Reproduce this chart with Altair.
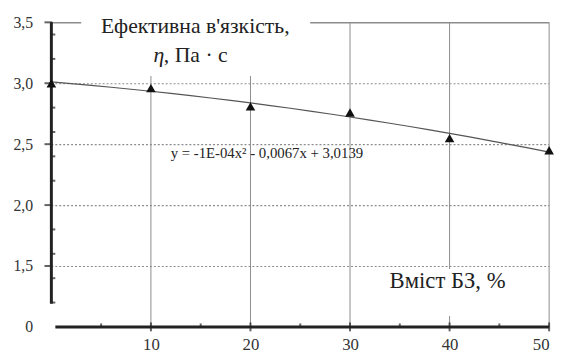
import altair as alt
import pandas as pd

# ---- data ----
content = [0, 10, 20, 30, 40, 50]               # Вміст БЗ, %
viscosity = [3.00, 2.96, 2.81, 2.76, 2.55, 2.45]  # η, Па·с

x_ticks = [0, 10, 20, 30, 40, 50]
x_grid = [10, 20, 30, 40, 50]
x_minor = [5, 15, 25, 35, 45]
y_ticks = [1.0, 1.5, 2.0, 2.5, 3.0, 3.5]          # 1.0 is the broken-axis "0"
y_major = [1.5, 2.0, 2.5, 3.0, 3.5]
y_grid = [1.5, 2.0, 2.5, 3.0]
y_minor = [1.2, 1.4, 1.6, 1.8, 2.2, 2.4, 2.6, 2.8, 3.2, 3.4]

title_line1 = "Ефективна в'язкість,"
title_eta = "η"
title_line2 = ", Па · с"
x_title = "Вміст БЗ, %"
equation = "y = -1E-04x² - 0,0067x + 3,0139"

df = pd.DataFrame({"x": content, "y": viscosity})

XS = alt.Scale(domain=[0, 50], nice=False, zero=False)
YS = alt.Scale(domain=[1.0, 3.5], nice=False, zero=False)
INK = "#222222"
GRID = "#8c8c8c"
SERIF = "Liberation Serif"

AX_X = alt.Axis(
    values=x_ticks,
    labelExpr="datum.value == 0 ? '' : datum.label",
    grid=False, domain=False, ticks=False,
    labelFont=SERIF, labelFontSize=17, labelColor="#333333",
    labelPadding=10,
)
AX_Y = alt.Axis(
    values=y_ticks,
    labelExpr="datum.value == 1 ? '0' : replace(format(datum.value, '.1f'), '.', ',')",
    grid=False, domain=False, ticks=False,
    labelFont=SERIF, labelFontSize=16, labelColor="#333333",
    labelPadding=19,
)


def X(field="x"):
    return alt.X(f"{field}:Q", scale=XS, title=None, axis=AX_X)


def Y(field="y"):
    return alt.Y(f"{field}:Q", scale=YS, title=None, axis=AX_Y)


# grid and frame
h_grid = alt.Chart(pd.DataFrame({"y": y_grid, "x": [0] * 4, "x2": [50] * 4})).mark_rule(
    color=GRID, strokeWidth=1.2, strokeDash=[2, 2], yOffset=0.5).encode(x=X(), x2="x2:Q", y=Y())
v_grid = alt.Chart(pd.DataFrame({"x": x_grid, "y": [1.0] * 5, "y2": [3.5] * 5})).mark_rule(
    color=GRID, strokeWidth=1).encode(x=X(), y=Y(), y2="y2:Q")
frame_top = alt.Chart(pd.DataFrame({"x": [0], "x2": [50], "y": [3.5]})).mark_rule(
    color=GRID, strokeWidth=1.5, yOffset=0.5).encode(x=X(), x2="x2:Q", y=Y())

# white boxes behind the annotation texts (cover grid lines like in the original)
boxes = alt.Chart(pd.DataFrame({
    "x": [3.0, 32.5], "x2": [26.0, 46.8], "y": [3.06, 1.09], "y2": [3.62, 1.475]
})).mark_rect(color="white").encode(x=X(), x2="x2:Q", y=Y(), y2="y2:Q")

trend = alt.Chart(df).transform_regression(
    "x", "y", method="poly", order=2, extent=[0, 50]
).mark_line(color="#555555", strokeWidth=1.2).encode(x=X(), y=Y())

points = alt.Chart(df).mark_point(
    shape="triangle-up", filled=True, color="#111111", size=95, opacity=1
).encode(x=X(), y=Y())

# broken axes lines
y_line = alt.Chart(pd.DataFrame({"x": [0], "y": [1.19], "y2": [3.5]})).mark_rule(
    color=INK, strokeWidth=3).encode(x=X(), y=Y(), y2="y2:Q")
x_line = alt.Chart(pd.DataFrame({"x": [0.4], "x2": [50], "y": [1.0]})).mark_rule(
    color=INK, strokeWidth=3).encode(x=X(), x2="x2:Q", y=Y())

x_major = alt.Chart(pd.DataFrame({"x": x_grid, "y": [1.0] * 5})).mark_tick(
    orient="vertical", size=9, thickness=2, color=INK).encode(x=X(), y=Y())
x_min = alt.Chart(pd.DataFrame({"x": x_minor, "y": [1.0] * 5})).mark_tick(
    orient="vertical", size=3, thickness=2, color=INK, yOffset=-2).encode(x=X(), y=Y())
y_maj = alt.Chart(pd.DataFrame({"x": [0] * len(y_major), "y": y_major})).mark_tick(
    orient="horizontal", size=8, thickness=2, color=INK, xOffset=-3).encode(x=X(), y=Y())
y_min = alt.Chart(pd.DataFrame({"x": [0] * len(y_minor), "y": y_minor})).mark_tick(
    orient="horizontal", size=4, thickness=2, color=INK, xOffset=2).encode(x=X(), y=Y())

t1 = alt.Chart(pd.DataFrame({"x": [14.45], "y": [3.411], "t": [title_line1]})).mark_text(
    font=SERIF, fontSize=22, color=INK, align="center", baseline="alphabetic"
).encode(x=X(), y=Y(), text="t:N")
t_eta = alt.Chart(pd.DataFrame({"x": [10.25], "y": [3.176], "t": [title_eta]})).mark_text(
    font=SERIF, fontSize=22, fontStyle="italic", color=INK, align="left", baseline="alphabetic"
).encode(x=X(), y=Y(), text="t:N")
t2 = alt.Chart(pd.DataFrame({"x": [11.3], "y": [3.176], "t": [title_line2]})).mark_text(
    font=SERIF, fontSize=22, color=INK, align="left", baseline="alphabetic"
).encode(x=X(), y=Y(), text="t:N")
t_x = alt.Chart(pd.DataFrame({"x": [39.8], "y": [1.316], "t": [x_title]})).mark_text(
    font=SERIF, fontSize=23, color=INK, align="center", baseline="alphabetic"
).encode(x=X(), y=Y(), text="t:N")
t_eq = alt.Chart(pd.DataFrame({"x": [11.98], "y": [2.383], "t": [equation]})).mark_text(
    font=SERIF, fontSize=15, color=INK, align="left", baseline="alphabetic"
).encode(x=X(), y=Y(), text="t:N")

chart = alt.layer(
    h_grid, v_grid, frame_top, boxes, trend, y_line, x_line,
    x_major, x_min, y_maj, y_min,
    t1, t_eta, t2, t_x, t_eq, points
).properties(
    width=505, height=309,
    autosize=alt.AutoSizeParams(type="none"),
    padding={"left": 44, "top": 12, "right": 9, "bottom": 29},
).configure(
    font=SERIF, background="white"
).configure_view(stroke=None).configure_axis(labelFont=SERIF)

chart.save("out.html", embed_options={"renderer": "svg", "actions": False})
